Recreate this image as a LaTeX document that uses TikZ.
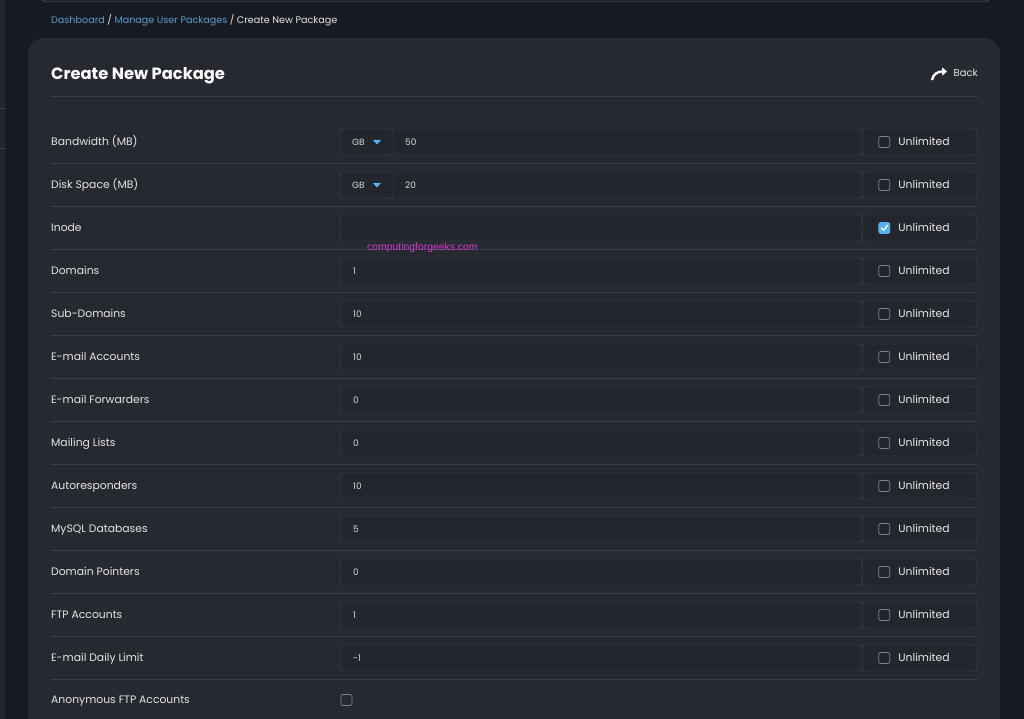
\documentclass[tikz,border=0pt]{standalone}
\usepackage{fontspec}
\setmainfont{Poppins}
\newfontfamily\wmfont{Liberation Sans}
\usetikzlibrary{shapes, arrows, arrows.meta, positioning}
\definecolor{bgdark}{HTML}{171A21}
\definecolor{panelbg}{HTML}{262930}
\definecolor{rulecol}{HTML}{3C3F46}
\definecolor{fieldbg}{HTML}{23262C}
\definecolor{fieldline}{HTML}{464950}
\definecolor{labeltxt}{HTML}{E4E5E7}
\definecolor{valtxt}{HTML}{D6D7DA}
\definecolor{linkblue}{HTML}{5B9BD0}
\definecolor{boxline}{HTML}{7E8188}
\definecolor{checkblue}{HTML}{5AAFEF}
\definecolor{wmpink}{HTML}{D63BD6}
\tikzstyle{rowlabel} = [anchor=west, inner sep=0pt, text height=7.6pt, text depth=0pt, text=labeltxt, font=\fontsize{10.8}{13}\selectfont]
\tikzstyle{field} = [rectangle, rounded corners=3pt, draw=fieldline, fill=fieldbg, minimum width=522pt, minimum height=26pt, anchor=west, inner sep=0pt]
\tikzstyle{unlbox} = [rectangle, rounded corners=3pt, draw=fieldline, fill=fieldbg, minimum width=115pt, minimum height=26pt, inner sep=0pt]
\tikzstyle{valtext} = [inner sep=0pt, text height=6.4pt, text depth=0pt, text=valtxt, font=\fontsize{9}{11}\selectfont]
\tikzstyle{chkoff} = [rectangle, rounded corners=2pt, draw=boxline, line width=0.8pt, minimum size=11pt, inner sep=0pt]
\tikzstyle{chkon} = [rectangle, rounded corners=2pt, draw=checkblue, fill=checkblue, line width=0.8pt, minimum size=11pt, inner sep=0pt]
\tikzstyle{unltext} = [inner sep=0pt, text height=7.6pt, text depth=0pt, text=labeltxt!85, font=\fontsize{10.8}{13}\selectfont]
\tikzstyle{rowrule} = [rulecol, line width=1pt]
\begin{document}
\begin{tikzpicture}[x=1pt, y=-1pt]
   \useasboundingbox (0,0) rectangle (1024,719);
   \clip (0,0) rectangle (1024,719);
   \fill[bgdark] (0,0) rectangle (1024,719);
   % side menu and top bar
   \fill[panelbg!80!bgdark] (0,0) rectangle (5,719);
   \draw[rulecol] (0,108) -- (5,108);
   \draw[rulecol] (0,148) -- (5,148);
   \draw[fieldline!80!white, fill=bgdark!70!panelbg, rounded corners=6pt] (40,-30) rectangle (991,1.5);
   % breadcrumb
   \node (crumb) [anchor=west, inner sep=0pt, text height=6.8pt, text depth=0pt, font=\fontsize{9.6}{11}\selectfont] at (51,20)
      {\textcolor{linkblue}{Dashboard} \textcolor{labeltxt}{/} \textcolor{linkblue}{Manage User Packages} \textcolor{labeltxt}{/ Create New Package}};
   % panel
   \fill[panelbg, rounded corners=16pt] (28,38) rectangle (1000,760);
   \node (title) [anchor=base west, inner sep=0pt, text=white, font=\fontsize{16.3}{19}\selectfont\bfseries] at (51,79.7) {Create New Package};
   \node (back) [anchor=east, inner sep=0pt, text height=7pt, text depth=0pt, text=labeltxt, font=\fontsize{10}{12}\selectfont] at (978,73.5) {Back};
   \coordinate (arrS) at (932,80);
   \coordinate (arrE) at (947,71.5);
   \draw[white, line width=2.4pt, -{Triangle[length=5pt, width=8pt]}] (arrS) .. controls (933,74) and (938,71.5) .. (arrE);
   \draw[rowrule] (51,97) -- (978,97);
   % rows
   \foreach \i/\name/\val/\vx/\chk in {
      1/{Bandwidth (MB)}/50/405/chkoff,
      2/{Disk Space (MB)}/20/405/chkoff,
      3/Inode//353/chkon,
      4/Domains/1/353/chkoff,
      5/Sub-Domains/10/353/chkoff,
      6/E-mail Accounts/10/353/chkoff,
      7/E-mail Forwarders/0/353/chkoff,
      8/Mailing Lists/0/353/chkoff,
      9/Autoresponders/10/353/chkoff,
      10/MySQL Databases/5/353/chkoff,
      11/Domain Pointers/0/353/chkoff,
      12/FTP Accounts/1/353/chkoff,
      13/E-mail Daily Limit/-1/353/chkoff} {
      \pgfmathsetmacro{\y}{142+43*(\i-1)}
      \node (l\i) [rowlabel] at (51,\y) {\name};
      \node (f\i) [field] at (340,\y) {};
      \node (v\i) [valtext, anchor=west] at (\vx,\y) {\val};
      \node (u\i) [unlbox, right=-0.5pt of f\i] {};
      \node (c\i) [\chk, right=16.5pt of u\i.west] {};
      \node (t\i) [unltext, right=8pt of c\i] {Unlimited};
      \draw[rowrule] (51,\y+21.5) -- (978,\y+21.5);
   }
   % unit dropdowns
   \foreach \i in {1,2} {
      \node (g\i) [field, minimum width=53pt] at (340,{142+43*(\i-1)}) {};
      \node (gt\i) [valtext, right=12pt of g\i.west] {GB};
      \fill[checkblue] ([xshift=33pt,yshift=2pt]g\i.west) -- ++(8,0) -- ++(-4,4.5) -- cycle;
   }
   % tick in the checked box
   \draw[white, line width=1.3pt, line cap=round, line join=round]
      ([xshift=-3pt]c3.center) -- ([xshift=-0.7pt,yshift=-2.3pt]c3.center) -- ([xshift=3.3pt,yshift=2.8pt]c3.center);
   % last row
   \node (l14) [rowlabel] at (51,700) {Anonymous FTP Accounts};
   \node (c14) [chkoff, anchor=west] at (340.5,700) {};
   % watermark
   \node (wm) [anchor=west, inner sep=0pt, text height=7.5pt, text depth=0pt, text=wmpink, font=\wmfont\fontsize{10.4}{12}\selectfont] at (367,247) {computingforgeeks.com};
\end{tikzpicture}
\end{document}
